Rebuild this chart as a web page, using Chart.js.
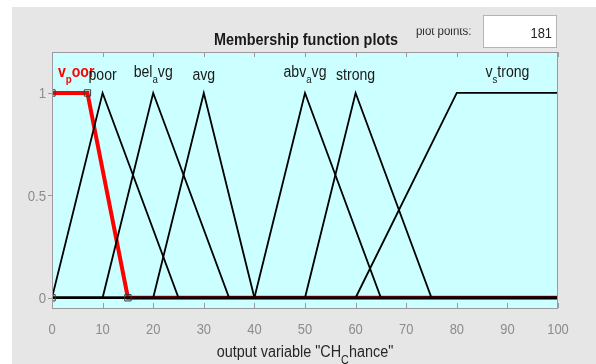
<!DOCTYPE html>
<html>
<head>
<meta charset="utf-8">
<script src="https://cdn.jsdelivr.net/npm/chart.js@4/dist/chart.umd.min.js"></script>
<style>
  html, body { margin: 0; padding: 0; background: #ffffff; overflow: hidden; }
  #wrap { width: 596px; height: 364px; position: relative; }
</style>
</head>
<body>
<div id="wrap"><canvas id="c" width="596" height="364"></canvas></div>
<script>
// Membership functions of the output variable
const mfNames  = ['v_poor', 'poor', 'bel_avg', 'avg', 'abv_avg', 'strong', 'v_strong'];
const mfTypes  = ['trapmf', 'trimf', 'trimf', 'trimf', 'trimf', 'trimf', 'trapmf'];
const mfParams = [[0, 0, 7, 15], [0, 10, 25], [10, 20, 35], [20, 30, 40], [40, 50, 65], [50, 60, 75], [60, 80, 100, 100]];
const selectedMf = 'v_poor';

const xRange = [0, 100];
const xTicks = [0, 10, 20, 30, 40, 50, 60, 70, 80, 90, 100];
const yTicks = [0, 0.5, 1];
const plotPoints = '181';
const plotTitle = 'Membership function plots';
const axisLabel = 'output variable "CH_Chance"';
const pointsLabel = 'plot points:';

const FAM = "'Liberation Sans', Arial, Helvetica, sans-serif";

// evaluate a trapezoid (a triangle is a trapezoid with b == c)
function trap(x, a, b, c, d) {
  const up = x < a ? 0 : (x < b ? (x - a) / (b - a) : 1);
  const down = x > d ? 0 : (x > c ? (d - x) / (d - c) : 1);
  return Math.min(up, down);
}
function mfValue(type, p, x) {
  return type === 'trimf' ? trap(x, p[0], p[1], p[1], p[2]) : trap(x, p[0], p[1], p[2], p[3]);
}
// curve vertices: the range ends plus every breakpoint inside the range
function mfCurve(type, p) {
  const xs = [...new Set([xRange[0], ...p, xRange[1]])]
    .filter(x => x >= xRange[0] && x <= xRange[1]).sort((a, b) => a - b);
  return xs.map(x => ({ x, y: mfValue(type, p, x) }));
}
// handles of the selected function
function mfHandles(type, p) {
  return type === 'trimf'
    ? [{ x: p[0], y: 0 }, { x: p[1], y: 1 }, { x: p[2], y: 0 }]
    : [{ x: p[0], y: 0 }, { x: p[1], y: 1 }, { x: p[2], y: 1 }, { x: p[3], y: 0 }];
}
function mfCenter(type, p) {
  return type === 'trimf' ? p[1] : (p[1] + p[2]) / 2;
}

const datasets = mfNames.map((name, i) => {
  const sel = name === selectedMf;
  return {
    label: name,
    data: mfCurve(mfTypes[i], mfParams[i]),
    borderColor: sel ? '#ff0000' : '#000000',
    borderWidth: sel ? 4 : 1.8,
    pointRadius: 0,
    tension: 0,
    fill: false,
    order: sel ? 5 : 2,
    clip: 0
  };
});
const selIdx = mfNames.indexOf(selectedMf);
datasets.push({
  label: 'handles',
  data: mfHandles(mfTypes[selIdx], mfParams[selIdx]),
  showLine: false,
  pointStyle: 'rect',
  pointRadius: 4.5,
  borderColor: '#3a3a3a',
  borderWidth: 1,
  backgroundColor: 'rgba(0,0,0,0)',
  order: 0,
  clip: 0
});

// text with optional horizontal condensing
function drawText(ctx, s, x, y, o) {
  ctx.save();
  ctx.font = o.font;
  ctx.fillStyle = o.color;
  ctx.textAlign = 'left';
  ctx.textBaseline = 'alphabetic';
  const sx = o.sx || 1;
  const w = ctx.measureText(s).width * sx;
  const x0 = o.align === 'center' ? x - w / 2 : (o.align === 'right' ? x - w : x);
  ctx.translate(x0, y);
  ctx.scale(sx, 1);
  ctx.fillText(s, 0, 0);
  ctx.restore();
  return w;
}
// split "ab_cd" into runs where the char after "_" is a subscript
function texParts(s) {
  const out = [];
  let buf = '';
  for (let i = 0; i < s.length; i++) {
    if (s[i] === '_' && i + 1 < s.length) {
      if (buf) out.push({ t: buf, sub: false });
      buf = '';
      out.push({ t: s[i + 1], sub: true });
      i++;
    } else buf += s[i];
  }
  if (buf) out.push({ t: buf, sub: false });
  return out;
}
function texWidth(ctx, parts, o) {
  let w = 0;
  parts.forEach(pt => {
    ctx.font = `${o.weight} ${pt.sub ? o.subSize : o.size}px ${FAM}`;
    w += ctx.measureText(pt.t).width * o.sx;
  });
  return w;
}
function drawTex(ctx, parts, left, base, o) {
  let x = left;
  parts.forEach(pt => {
    x += drawText(ctx, pt.t, x, pt.sub ? base + o.subShift : base, {
      font: `${o.weight} ${pt.sub ? o.subSize : o.size}px ${FAM}`,
      color: o.color, sx: o.sx
    });
  });
}

const frame = {
  id: 'frame',
  beforeDraw(chart) {
    const { ctx, chartArea: a } = chart;
    ctx.save();
    ctx.fillStyle = '#ffffff';
    ctx.fillRect(0, 0, chart.width, chart.height);
    ctx.fillStyle = '#e6e6e6';
    ctx.fillRect(12, 7, chart.width - 12, chart.height - 7);
    ctx.fillStyle = '#ccffff';
    ctx.fillRect(a.left, a.top, a.right - a.left, a.bottom - a.top);
    ctx.restore();
  },
  afterDraw(chart) {
    const { ctx, chartArea: a } = chart;
    const xs = chart.scales.x, ys = chart.scales.y;
    ctx.save();
    // axes box and tick marks
    ctx.strokeStyle = '#9a9a9a';
    ctx.lineWidth = 1;
    ctx.strokeRect(a.left + 0.5, a.top + 0.5, a.right - a.left - 1, a.bottom - a.top);
    ctx.beginPath();
    xTicks.forEach(v => {
      const px = Math.round(xs.getPixelForValue(v)) + 0.5;
      ctx.moveTo(px, a.bottom); ctx.lineTo(px, a.bottom - 5);
      ctx.moveTo(px, a.top); ctx.lineTo(px, a.top + 5);
    });
    yTicks.forEach(v => {
      const py = Math.round(ys.getPixelForValue(v)) + 0.5;
      ctx.moveTo(a.left, py); ctx.lineTo(a.left - 4, py);
    });
    ctx.stroke();
    ctx.restore();

    // tick labels
    xTicks.forEach(v => {
      drawText(ctx, String(v), xs.getPixelForValue(v), a.bottom + 26,
        { font: `15px ${FAM}`, color: '#8c8c8c', align: 'center', sx: 0.86 });
    });
    yTicks.forEach(v => {
      drawText(ctx, String(v), a.left - 6, ys.getPixelForValue(v) + 5.5,
        { font: `15px ${FAM}`, color: '#8c8c8c', align: 'right', sx: 0.88 });
    });

    // membership function names
    mfNames.forEach((name, i) => {
      const sel = name === selectedMf;
      const parts = texParts(name);
      const hasSub = parts.some(p => p.sub);
      const o = { weight: sel ? 'bold' : 'normal', size: 16, subSize: 11, sx: 0.88,
                  color: sel ? '#ff0000' : '#1a1a1a', subShift: 6 };
      const w = texWidth(ctx, parts, o);
      let left = xs.getPixelForValue(mfCenter(mfTypes[i], mfParams[i])) - w / 2;
      left = Math.max(left, a.left + 6);
      left = Math.min(left, a.right - 6 - w);
      const base = ys.getPixelForValue(1) - 13 - (hasSub ? 3 : 0);
      drawTex(ctx, parts, left, base, o);
    });

    // axis label
    const lp = texParts(axisLabel);
    const lo = { weight: 'normal', size: 16, subSize: 12, sx: 0.9, color: '#262626', subShift: 7 };
    const lw = texWidth(ctx, lp, lo);
    drawTex(ctx, lp, (a.left + a.right) / 2 - lw / 2, a.bottom + 49, lo);

    // title
    drawText(ctx, plotTitle, (a.left + a.right) / 2 + 1, 45,
      { font: `bold 16px ${FAM}`, color: '#1a1a1a', align: 'center', sx: 0.9 });

    // plot points field (its label is cut off at the top by the panel edge)
    ctx.save();
    ctx.beginPath();
    ctx.rect(400, 28.5, 80, 20);
    ctx.clip();
    drawText(ctx, pointsLabel, 416, 35, { font: `13px ${FAM}`, color: '#2a2a2a', sx: 0.88 });
    ctx.restore();
    ctx.save();
    ctx.fillStyle = '#ffffff';
    ctx.fillRect(483, 15, 74, 33);
    ctx.strokeStyle = '#b4b4b4';
    ctx.lineWidth = 1;
    ctx.strokeRect(483.5, 15.5, 73, 32);
    ctx.restore();
    drawText(ctx, plotPoints, 552, 38, { font: `15px ${FAM}`, color: '#222222', align: 'right', sx: 0.86 });
  }
};

new Chart(document.getElementById('c'), {
  type: 'line',
  data: { datasets },
  options: {
    responsive: false,
    animation: false,
    events: [],
    layout: { padding: { left: 0, top: 52, right: 38, bottom: 0 } },
    plugins: { legend: { display: false }, title: { display: false }, tooltip: { enabled: false } },
    scales: {
      x: {
        type: 'linear', min: xRange[0], max: xRange[1],
        afterBuildTicks: s => { s.ticks = xTicks.map(v => ({ value: v })); },
        afterFit: s => { s.height = 56; },
        ticks: { display: false },
        grid: { display: false, drawTicks: false },
        border: { display: false }
      },
      y: {
        type: 'linear', min: -0.05, max: 1.2,
        afterBuildTicks: s => { s.ticks = yTicks.map(v => ({ value: v })); },
        afterFit: s => { s.width = 52; },
        ticks: { display: false },
        grid: { display: false, drawTicks: false },
        border: { display: false }
      }
    }
  },
  plugins: [frame]
});
</script>
</body>
</html>
